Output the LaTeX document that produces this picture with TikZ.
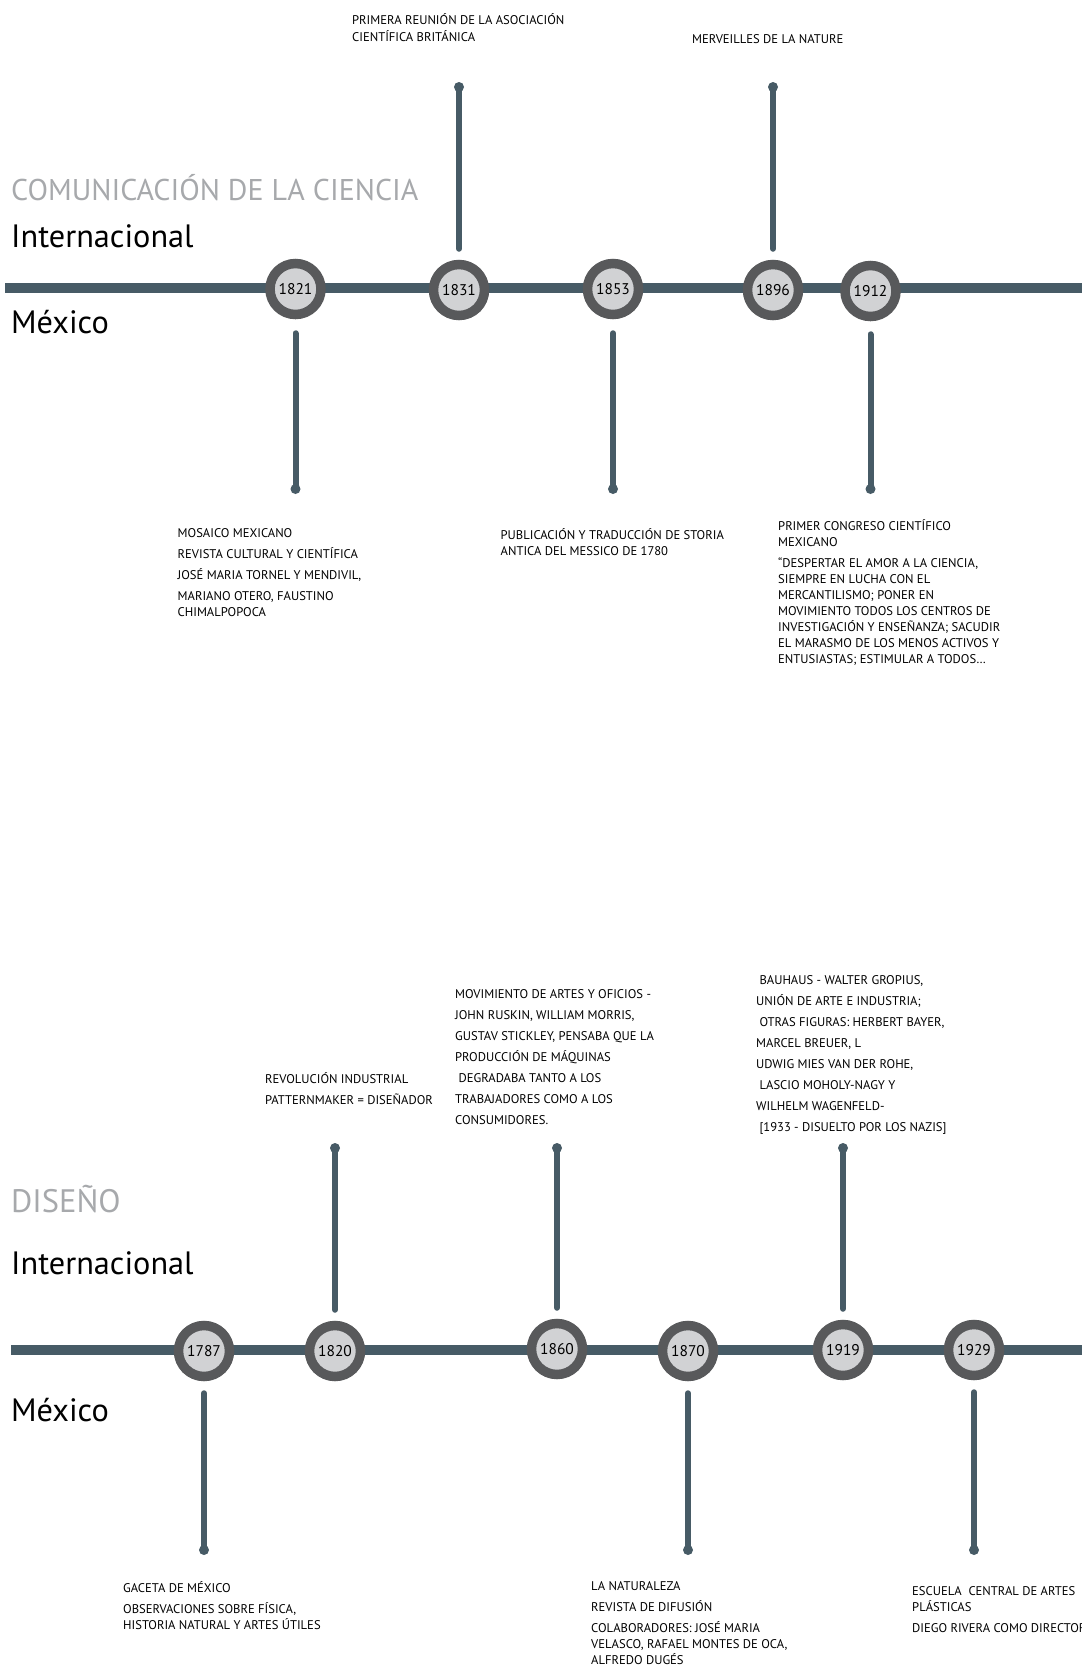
\documentclass[tikz,border=0pt]{standalone}
\usepackage{fontspec}
\setmainfont{PT Sans}
\definecolor{tline}{HTML}{475B66}
\definecolor{ring}{HTML}{58595B}
\definecolor{inner}{HTML}{D1D2D4}
\definecolor{head}{HTML}{A7A9AC}
\tikzset{
  x=1pt,y=-1pt,
  axis/.style={draw=tline,line width=10pt},
  yearnode/.style={circle,draw=ring,line width=9.5pt,fill=inner,minimum size=51pt,inner sep=0pt,font=\fontsize{15.5}{15.5}\selectfont},
  stem/.style={draw=tline,line width=6pt,line cap=round},
  dotend/.style={fill=tline},
  small/.style={anchor=north west,align=left,inner sep=0pt,font=\fontsize{12.6}{16}\selectfont,execute at begin node=\strut},
  heading/.style={anchor=west,inner sep=0pt,text=head,font=\fontsize{30}{30}\selectfont},
  region/.style={anchor=west,inner sep=0pt,font=\fontsize{32.3}{32}\selectfont},
}
\begin{document}
\begin{tikzpicture}
\useasboundingbox (0,0) rectangle (1082,1666);
% ===== Comunicacion de la ciencia =====
\node[heading] (h1) at (11,188) {COMUNICACIÓN DE LA CIENCIA};
\node[region] (int1) at (11,236) {Internacional};
\node[region] (mex1) at (11,322) {México};
\coordinate (a1l) at (5,288);
\coordinate (a1r) at (1082,288);
\draw[axis] (a1l) -- (a1r);
\node[yearnode] (c1821) at (295.5,289) {1821};
\node[yearnode] (c1831) at (459,290) {1831};
\node[yearnode] (c1853) at (613,289) {1853};
\node[yearnode] (c1896) at (773,290) {1896};
\node[yearnode] (c1912) at (870.5,291) {1912};
% top stems
\coordinate (d1831) at (459,87);
\coordinate (d1896) at (773,87);
\draw[stem] ([yshift=11pt]c1831.north) -- (d1831);
\draw[stem] ([yshift=11pt]c1896.north) -- (d1896);
\fill[dotend] (d1831) circle (5);
\fill[dotend] (d1896) circle (5);
% bottom stems
\coordinate (d1821) at (295.5,489);
\coordinate (d1853) at (613,489);
\coordinate (d1912) at (870.5,489);
\draw[stem] ([yshift=-14pt]c1821.south) -- (d1821);
\draw[stem] ([yshift=-14pt]c1853.south) -- (d1853);
\draw[stem] ([yshift=-13pt]c1912.south) -- (d1912);
\fill[dotend] (d1821) circle (5);
\fill[dotend] (d1853) circle (5);
\fill[dotend] (d1912) circle (5);
% texts
\node[small] (t1831) at (352,13.5) {PRIMERA REUNIÓN DE LA ASOCIACIÓN\\[1pt]CIENTÍFICA BRITÁNICA};
\node[small] (t1896) at (692,32.5) {MERVEILLES DE LA NATURE};
\node[small] (t1821) at (177.5,528.5) {MOSAICO MEXICANO\\[5pt]REVISTA CULTURAL Y CIENTÍFICA\\[5pt]JOSÉ MARIA TORNEL Y MENDIVIL,\\[5pt]MARIANO OTERO, FAUSTINO\\CHIMALPOPOCA};
\node[small] (t1853) at (500.5,528.5) {PUBLICACIÓN Y TRADUCCIÓN DE STORIA\\ANTICA DEL MESSICO DE 1780};
\node[small] (t1912) at (778,519) {PRIMER CONGRESO CIENTÍFICO\\MEXICANO\\[5pt]“DESPERTAR EL AMOR A LA CIENCIA,\\SIEMPRE EN LUCHA CON EL\\MERCANTILISMO; PONER EN\\MOVIMIENTO TODOS LOS CENTROS DE\\INVESTIGACIÓN Y ENSEÑANZA; SACUDIR\\EL MARASMO DE LOS MENOS ACTIVOS Y\\ENTUSIASTAS; ESTIMULAR A TODOS…};
% ===== Diseno =====
\node[heading,font=\fontsize{32.5}{32}\selectfont] (h2) at (11,1199) {DISEÑO};
\node[region] (int2) at (11,1263) {Internacional};
\node[region] (mex2) at (11,1410) {México};
\coordinate (a2l) at (11,1350);
\coordinate (a2r) at (1082,1350);
\draw[axis] (a2l) -- (a2r);
\node[yearnode] (c1787) at (204,1351) {1787};
\node[yearnode] (c1820) at (335,1351) {1820};
\node[yearnode] (c1860) at (557,1349) {1860};
\node[yearnode] (c1870) at (688,1351) {1870};
\node[yearnode] (c1919) at (843,1350) {1919};
\node[yearnode] (c1929) at (974,1350) {1929};
% top stems
\coordinate (d1820) at (335,1148);
\coordinate (d1860) at (557,1148);
\coordinate (d1919) at (843,1148);
\draw[stem] ([yshift=11pt]c1820.north) -- (d1820);
\draw[stem] ([yshift=11pt]c1860.north) -- (d1860);
\draw[stem] ([yshift=11pt]c1919.north) -- (d1919);
\fill[dotend] (d1820) circle (5);
\fill[dotend] (d1860) circle (5);
\fill[dotend] (d1919) circle (5);
% bottom stems
\coordinate (d1787) at (204,1550);
\coordinate (d1870) at (688,1550);
\coordinate (d1929) at (974,1550);
\draw[stem] ([yshift=-12pt]c1787.south) -- (d1787);
\draw[stem] ([yshift=-12pt]c1870.south) -- (d1870);
\draw[stem] ([yshift=-12pt]c1929.south) -- (d1929);
\fill[dotend] (d1787) circle (5);
\fill[dotend] (d1870) circle (5);
\fill[dotend] (d1929) circle (5);
% texts
\node[small] (t1820) at (265,1072.5) {REVOLUCIÓN INDUSTRIAL\\[5pt]PATTERNMAKER = DISEÑADOR};
\node[small] (t1860) at (455,989.5) {MOVIMIENTO DE ARTES Y OFICIOS -\\[5pt]JOHN RUSKIN, WILLIAM MORRIS,\\[5pt]GUSTAV STICKLEY, PENSABA QUE LA\\[5pt]PRODUCCIÓN DE MÁQUINAS\\[5pt]\ DEGRADABA TANTO A LOS\\[5pt]TRABAJADORES COMO A LOS\\[5pt]CONSUMIDORES.};
\node[small] (t1919) at (756,975.5) {\ BAUHAUS - WALTER GROPIUS,\\[5pt]UNIÓN DE ARTE E INDUSTRIA;\\[5pt]\ OTRAS FIGURAS: HERBERT BAYER,\\[5pt]MARCEL BREUER, L\\[5pt]UDWIG MIES VAN DER ROHE,\\[5pt]\ LASCIO MOHOLY-NAGY Y\\[5pt]WILHELM WAGENFELD-\\[5pt]\ [1933 - DISUELTO POR LOS NAZIS]};
\node[small] (t1787) at (123,1581.5) {GACETA DE MÉXICO\\[5pt]OBSERVACIONES SOBRE FÍSICA,\\HISTORIA NATURAL Y ARTES ÚTILES};
\node[small] (t1870) at (591,1581.5) {LA NATURALEZA\\[5pt]REVISTA DE DIFUSIÓN\\[5pt]COLABORADORES: JOSÉ MARIA\\VELASCO, RAFAEL MONTES DE OCA,\\ALFREDO DUGÉS};
\node[small] (t1929) at (912,1586.5) {ESCUELA \ CENTRAL DE ARTES\\PLÁSTICAS\\[5pt]DIEGO RIVERA COMO DIRECTOR};
\end{tikzpicture}
\end{document}
